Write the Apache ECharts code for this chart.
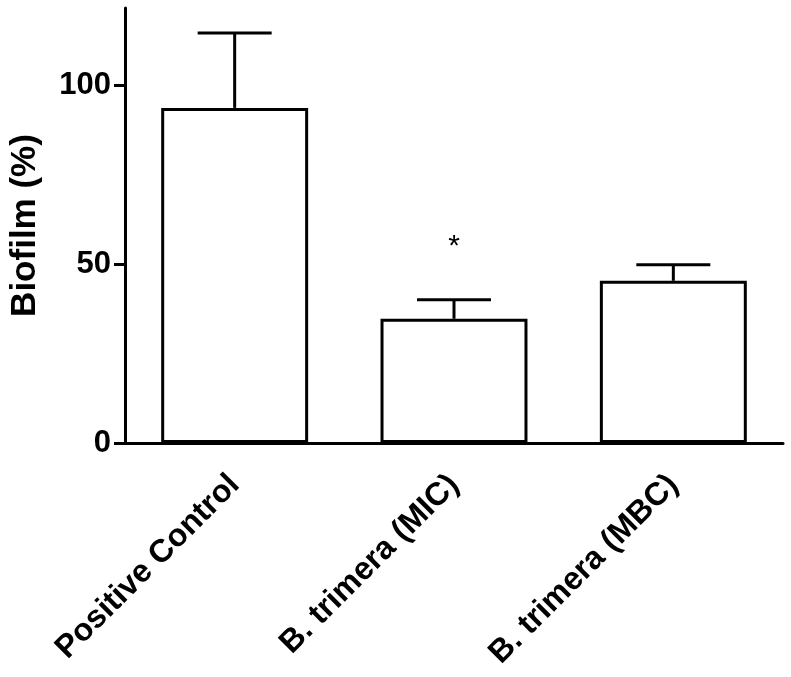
<!DOCTYPE html>
<html>
<head>
<meta charset="utf-8">
<script src="https://cdn.jsdelivr.net/npm/echarts@6/dist/echarts.min.js"></script>
<style>
  html, body { margin: 0; padding: 0; background: #fff; }
  #chart { width: 791px; height: 677px; }
</style>
</head>
<body>
<div id="chart"></div>
<script>
  // data
  var categories = ['Positive Control', 'B. trimera (MIC)', 'B. trimera (MBC)'];
  var biofilm = [93.6, 34.7, 45.3];
  var errorTop = [114.5, 40.0, 49.8];
  var signif = ['', '*', ''];
  var yTicks = [0, 50, 100];

  var font = 'Liberation Sans, Arial, sans-serif';

  var errData = categories.map(function (c, i) {
    return [i, biofilm[i], errorTop[i]];
  });

  var chart = echarts.init(document.getElementById('chart'));
  chart.setOption({
    animation: false,
    backgroundColor: '#fff',
    grid: { left: 124, right: 8, top: 8, bottom: 234 },
    xAxis: {
      type: 'category',
      data: categories,
      z: 10,
      axisLine: { lineStyle: { color: '#000', width: 3 } },
      axisTick: { alignWithLabel: true, length: 12, lineStyle: { color: '#000', width: 3 } },
      axisLabel: {
        rotate: 45,
        margin: 37,
        color: '#000',
        fontFamily: font,
        fontWeight: 'bold',
        fontSize: 32
      }
    },
    yAxis: {
      type: 'value',
      min: 0,
      max: 121.5,
      interval: 50,
      name: 'Biofilm (%)',
      nameLocation: 'middle',
      nameGap: 82,
      nameTextStyle: { color: '#000', fontFamily: font, fontWeight: 'bold', fontSize: 35 },
      splitLine: { show: false },
      axisLine: { show: true, lineStyle: { color: '#000', width: 3 } },
      axisTick: { show: true, length: 11, customValues: yTicks, lineStyle: { color: '#000', width: 3 } },
      axisLabel: {
        customValues: yTicks,
        margin: 14,
        color: '#000',
        fontFamily: font,
        fontWeight: 'bold',
        fontSize: 31
      }
    },
    series: [
      {
        type: 'bar',
        data: biofilm,
        barWidth: '67%',
        itemStyle: { color: '#fff', borderColor: '#000', borderWidth: 3 }
      },
      {
        type: 'custom',
        data: errData,
        encode: { x: 0, y: 2 },
        z: 5,
        renderItem: function (params, api) {
          var i = api.value(0);
          var base = api.coord([i, api.value(1)]);
          var top = api.coord([i, api.value(2)]);
          var half = 37;
          var st = { stroke: '#000', lineWidth: 3 };
          var kids = [
            { type: 'line', shape: { x1: base[0], y1: base[1], x2: top[0], y2: top[1] }, style: st },
            { type: 'line', shape: { x1: top[0] - half, y1: top[1], x2: top[0] + half, y2: top[1] }, style: st }
          ];
          if (signif[i]) {
            kids.push({
              type: 'text',
              style: {
                text: signif[i], x: top[0], y: top[1] - 53,
                align: 'center', verticalAlign: 'middle',
                font: '30px ' + font, fill: '#000'
              }
            });
          }
          return { type: 'group', children: kids };
        }
      }
    ]
  });
</script>
</body>
</html>
